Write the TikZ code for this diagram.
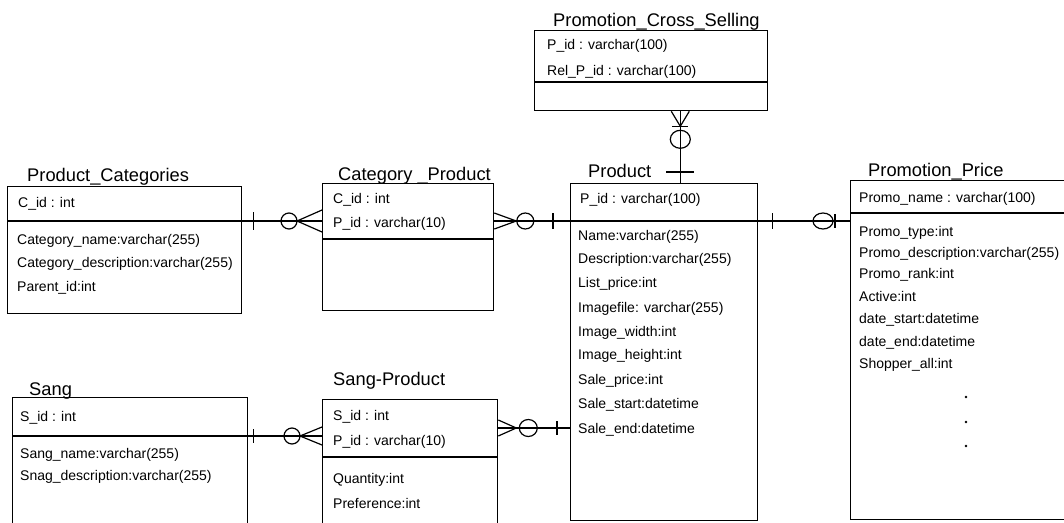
\documentclass[tikz,border=0pt]{standalone}
\usepackage{fontspec}
\setmainfont{Liberation Sans}
\usetikzlibrary{calc}
\begin{document}
\begin{tikzpicture}[x=1pt,y=-1pt,
  ebox/.style={draw, line width=1.3pt, rectangle, inner sep=0pt, anchor=north west},
  attr/.style={font=\fontsize{14}{16}\selectfont, inner sep=0pt, text height=10pt, text depth=0pt, anchor=west},
  etitle/.style={font=\fontsize{18.3}{20}\selectfont, inner sep=0pt, text height=13pt, text depth=0pt, anchor=west},
  divider/.style={line width=1.2pt},
  conn/.style={line width=1.2pt},
]
\clip (0,0) rectangle (1064,522);
\fill[white] (0,0) rectangle (1064,522);

% ---------- Promotion_Cross_Selling ----------
\node[etitle] (pcs-title) at (553,20) {Promotion\_Cross\_Selling};
\node[ebox, minimum width=233pt, minimum height=80pt] (pcsbox) at (534,30) {};
\coordinate (pcsdivL) at ($(pcsbox.north west)+(0,52)$);
\coordinate (pcsdivR) at ($(pcsbox.north east)+(0,52)$);
\draw[divider] (pcsdivL) -- (pcsdivR);
\node[attr] (pcs-pid) at (547,44) {P\_id : varchar(100)};
\node[attr] (pcs-rel) at (547,70) {Rel\_P\_id : varchar(100)};

% ---------- Product_Categories ----------
\node[etitle] (pc-title) at (27,175) {Product\_Categories};
\node[ebox, minimum width=234pt, minimum height=127pt] (pcbox) at (7,186) {};
\coordinate (pcdivL) at ($(pcbox.north west)+(0,35)$);
\coordinate (pcdivR) at ($(pcbox.north east)+(0,35)$);
\draw[divider] (pcdivL) -- (pcdivR);
\node[attr] (pc-cid) at (18,202) {C\_id : int};
\node[attr] (pc-name) at (17,239) {Category\_name:varchar(255)};
\node[attr] (pc-desc) at (17,262) {Category\_description:varchar(255)};
\node[attr] (pc-parent) at (17,286) {Parent\_id:int};

% ---------- Category _Product ----------
\node[etitle] (cp-title) at (338,174) {Category \_Product};
\node[ebox, minimum width=171pt, minimum height=127pt] (cpbox) at (322,183) {};
\coordinate (cpdivL) at ($(cpbox.north west)+(0,56)$);
\coordinate (cpdivR) at ($(cpbox.north east)+(0,56)$);
\draw[divider] (cpdivL) -- (cpdivR);
\node[attr] (cp-cid) at (333,198) {C\_id : int};
\node[attr] (cp-pid) at (333,222) {P\_id : varchar(10)};

% ---------- Product ----------
\node[etitle] (prod-title) at (588,171) {Product};
\node[ebox, minimum width=187pt, minimum height=337pt] (prodbox) at (570,183) {};
\coordinate (proddivL) at ($(prodbox.north west)+(0,38)$);
\coordinate (proddivR) at ($(prodbox.north east)+(0,38)$);
\draw[divider] (proddivL) -- (proddivR);
\node[attr] (prod-pid) at (580,198) {P\_id : varchar(100)};
\node[attr] (prod-name) at (578,235) {Name:varchar(255)};
\node[attr] (prod-desc) at (578,258) {Description:varchar(255)};
\node[attr] (prod-list) at (578,282) {List\_price:int};
\node[attr] (prod-file) at (578,307) {Imagefile: varchar(255)};
\node[attr] (prod-iw) at (578,331) {Image\_width:int};
\node[attr] (prod-ih) at (578,354) {Image\_height:int};
\node[attr] (prod-sp) at (578,379) {Sale\_price:int};
\node[attr] (prod-ss) at (578,403) {Sale\_start:datetime};
\node[attr] (prod-send) at (578,428) {Sale\_end:datetime};

% ---------- Promotion_Price ----------
\node[etitle] (pp-title) at (868,170) {Promotion\_Price};
\node[ebox, minimum width=230pt, minimum height=339pt] (ppbox) at (850,180) {};
\coordinate (ppdivL) at ($(ppbox.north west)+(0,33)$);
\coordinate (ppdivR) at ($(ppbox.north east)+(0,33)$);
\draw[divider] (ppdivL) -- (ppdivR);
\node[attr] (pp-name) at (859,197) {Promo\_name : varchar(100)};
\node[attr] (pp-type) at (859,231) {Promo\_type:int};
\node[attr] (pp-desc) at (859,252) {Promo\_description:varchar(255)};
\node[attr] (pp-rank) at (859,273) {Promo\_rank:int};
\node[attr] (pp-active) at (859,296) {Active:int};
\node[attr] (pp-ds) at (859,318) {date\_start:datetime};
\node[attr] (pp-de) at (859,341) {date\_end:datetime};
\node[attr] (pp-shop) at (859,363) {Shopper\_all:int};
\foreach \yy in {397,422,446} \fill (966,\yy) circle[radius=1.4pt];

% ---------- Sang ----------
\node[etitle] (sang-title) at (29,389) {Sang};
\node[ebox, minimum width=235pt, minimum height=140pt] (sangbox) at (12,397) {};
\coordinate (sangdivL) at ($(sangbox.north west)+(0,39)$);
\coordinate (sangdivR) at ($(sangbox.north east)+(0,39)$);
\draw[divider] (sangdivL) -- (sangdivR);
\node[attr] (sang-sid) at (20,416) {S\_id : int};
\node[attr] (sang-name) at (20,453) {Sang\_name:varchar(255)};
\node[attr] (sang-desc) at (20,475) {Snag\_description:varchar(255)};

% ---------- Sang-Product ----------
\node[etitle] (sp-title) at (333,379) {Sang-Product};
\node[ebox, minimum width=175pt, minimum height=140pt] (spbox) at (322,399) {};
\coordinate (spdivL) at ($(spbox.north west)+(0,58)$);
\coordinate (spdivR) at ($(spbox.north east)+(0,58)$);
\draw[divider] (spdivL) -- (spdivR);
\node[attr] (sp-sid) at (333,415) {S\_id : int};
\node[attr] (sp-pid) at (333,440) {P\_id : varchar(10)};
\node[attr] (sp-qty) at (333,478) {Quantity:int};
\node[attr] (sp-pref) at (333,503) {Preference:int};

% ---------- Relationships ----------
% Product_Categories (one) -- Category _Product (zero or many)
\coordinate (cpL) at (pcdivR -| cpbox.west);
\draw[conn] (pcdivR) -- (cpL);
\begin{scope}[shift={(pcdivR)}]
  \draw[conn] (11,-9) -- (11,9);
\end{scope}
\begin{scope}[shift={(cpL)}]
  \draw[conn] (-33,0) circle[x radius=8pt, y radius=8pt];
  \draw[conn] (-25,0) -- (0,-11) (-25,0) -- (0,11);
\end{scope}

% Category _Product (zero or many) -- Product (one)
\coordinate (cpR) at (proddivL -| cpbox.east);
\draw[conn] (cpR) -- (proddivL);
\begin{scope}[shift={(cpR)}]
  \draw[conn] (0,-8) -- (22,0) -- (0,8);
  \draw[conn] (31,0) circle[x radius=8.5pt, y radius=8pt];
\end{scope}
\begin{scope}[shift={(proddivL)}]
  \draw[conn] (-17,-8) -- (-17,8);
\end{scope}

% Product (one) -- Promotion_Price (zero or one)
\coordinate (ppL) at (proddivR -| ppbox.west);
\draw[conn] (proddivR) -- (ppL);
\begin{scope}[shift={(proddivR)}]
  \draw[conn] (14,-8) -- (14,8);
\end{scope}
\begin{scope}[shift={(ppL)}]
  \draw[conn] (-27,0) circle[x radius=10pt, y radius=8pt];
  \draw[conn] (-15,-7) -- (-15,7);
\end{scope}

% Sang (one) -- Sang-Product (zero or many)
\coordinate (spL) at (sangdivR -| spbox.west);
\draw[conn] (sangdivR) -- (spL);
\begin{scope}[shift={(sangdivR)}]
  \draw[conn] (5,-7) -- (5,7);
\end{scope}
\begin{scope}[shift={(spL)}]
  \draw[conn] (-30,0) circle[x radius=8pt, y radius=8pt];
  \draw[conn] (-22,0) -- (0,-9) (-22,0) -- (0,9);
\end{scope}

% Sang-Product (zero or many) -- Product (one)
\coordinate (spR) at (prod-send.west -| spbox.east);
\coordinate (prodL) at (prod-send.west -| prodbox.west);
\draw[conn] (spR) -- (prodL);
\begin{scope}[shift={(spR)}]
  \draw[conn] (0,-8) -- (18,0) -- (0,8);
  \draw[conn] (30,0) circle[x radius=9pt, y radius=8.5pt];
\end{scope}
\begin{scope}[shift={(prodL)}]
  \draw[conn] (-13,-7) -- (-13,7);
\end{scope}

% Promotion_Cross_Selling (zero or many) -- Product (one)
\coordinate (pcslink) at ($(pcsbox.south east)+(-88,0)$);
\coordinate (prodtop) at (pcslink |- prodbox.north);
\draw[conn] (pcslink) -- (prodtop);
\begin{scope}[shift={(pcslink)}]
  \draw[conn] (-9,0) -- (0,15) -- (9,0);
  \draw[conn] (-8,15) -- (8,15);
  \draw[conn] (0,28) circle[x radius=10pt, y radius=9pt];
\end{scope}
\begin{scope}[shift={(prodtop)}]
  \draw[conn] (-14,-11) -- (14,-11);
\end{scope}
\end{tikzpicture}
\end{document}
